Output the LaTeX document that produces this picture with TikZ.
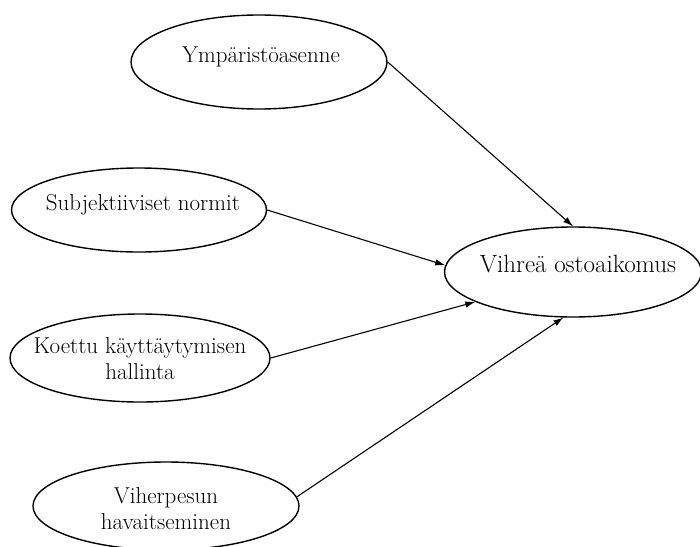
\documentclass[tikz,border=0pt]{standalone}
\usetikzlibrary{arrows.meta,shapes.geometric}
\begin{document}
\begin{tikzpicture}[x=1pt,y=-1pt,
  oval/.style={draw=black, line width=1.4pt, ellipse, inner sep=0pt},
  txt/.style={font=\fontsize{23}{26}\selectfont, align=center, inner sep=0pt},
  big/.style={font=\fontsize{25}{26}\selectfont},
  one/.style={text height=4pt, text depth=4pt},
  conn/.style={draw=black, line width=1.1pt, -{Latex[length=10pt,width=6.5pt]}}]
\fill[white] (0,0) rectangle (700,546);
\useasboundingbox (0,0) rectangle (700,546);
\node[oval, minimum width=256pt, minimum height=94pt] (e1) at (259,62) {};
\node[oval, minimum width=255pt, minimum height=84pt] (e2) at (139,210) {};
\node[oval, minimum width=260pt, minimum height=88pt] (e3) at (140,358) {};
\node[oval, minimum width=266pt, minimum height=88pt] (e4) at (166,506) {};
\node[oval, minimum width=257pt, minimum height=90pt] (e5) at (573,272) {};
\node[txt, one] (t1) at ([xshift=2pt]e1.center) {Ympäristöasenne};
\node[txt, one] (t2) at ([xshift=4pt]e2.center) {Subjektiiviset normit};
\node[txt] (t3) at ([yshift=-1pt]e3.center) {Koettu käyttäytymisen\\hallinta};
\node[txt] (t4) at ([yshift=-3pt]e4.center) {Viherpesun\\havaitseminen};
\node[txt, big, one] (t5) at ([xshift=5pt]e5.center) {Vihreä ostoaikomus};
\draw[conn] (e1.east) -- (e5.north);
\draw[conn] (e2.east) -- (e5.177);
\draw[conn] (e3.east) -- (e5.197);
\draw[conn] (e4.4) -- (e5.258);
\end{tikzpicture}
\end{document}
